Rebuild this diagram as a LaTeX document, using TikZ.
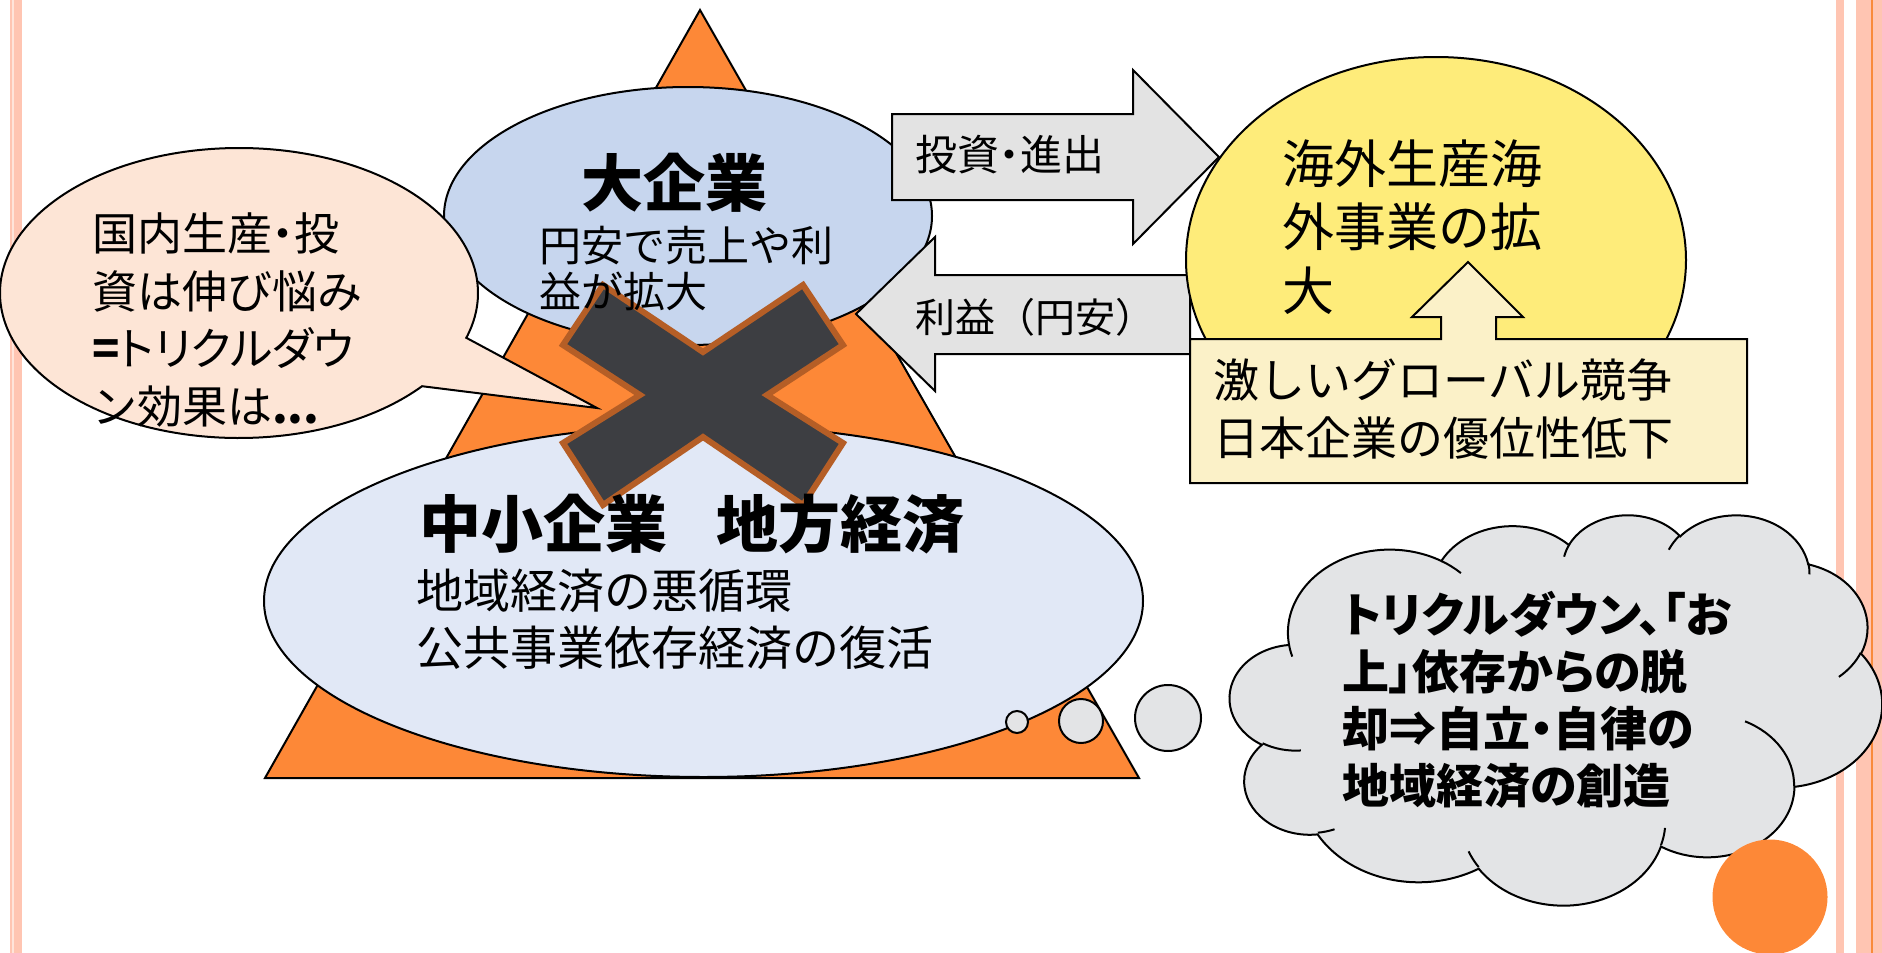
\documentclass[tikz,border=0pt]{standalone}
\usepackage{fontspec}
\newfontfamily\jp{Noto Sans CJK JP}
\newfontfamily\jpp[RawFeature=+palt]{Noto Sans CJK JP}
\definecolor{orangeT}{RGB}{253,136,55}
\definecolor{blueTop}{RGB}{199,214,238}
\definecolor{blueBot}{RGB}{225,232,246}
\definecolor{peach}{RGB}{253,229,214}
\definecolor{arrowgray}{RGB}{227,227,227}
\definecolor{sun}{RGB}{254,236,122}
\definecolor{boxyel}{RGB}{251,241,200}
\definecolor{xfill}{RGB}{61,62,66}
\definecolor{xedge}{RGB}{181,94,38}
\definecolor{cloudgray}{RGB}{227,228,230}
\definecolor{stripe}{RGB}{255,197,178}
\definecolor{stripepale}{RGB}{255,228,218}
\definecolor{stripeor}{RGB}{249,139,58}
% OOXML arcTo -> TikZ arc (visual angles converted to parametric)
\newcommand\ooprep[5]{%
  \pgfmathsetmacro\tmpS{atan2(#2*sin(#4),#3*cos(#4))}%
  \pgfmathsetmacro\tmpE{atan2(#2*sin(#4+#5),#3*cos(#4+#5))}%
  \pgfmathsetmacro\tmpD{mod(\tmpE-\tmpS+720,360)}%
  \expandafter\edef\csname oo#1\endcsname{arc[start angle=\tmpS, delta angle=\tmpD, x radius=#2, y radius=#3]}%
}
\ooprep{A}{6753}{9190}{-190.4875}{123.7805}
\ooprep{B}{5333}{7267}{-144.1024}{89.9452}
\ooprep{C}{4365}{5945}{-145.8079}{99.7230}
\ooprep{D}{4857}{6595}{-130.9861}{117.2417}
\ooprep{E}{5333}{7273}{-78.7089}{109.0269}
\ooprep{F}{6775}{9220}{-46.2673}{130.2690}
\ooprep{G}{5785}{7867}{0.6250}{114.0333}
\ooprep{H}{6752}{9215}{22.4516}{115.1726}
\ooprep{I}{7720}{10543}{66.2426}{75.7110}
\ooprep{J}{4360}{5918}{-274.9421}{146.7356}
\ooprep{K}{4345}{5945}{-246.8285}{152.5189}
\ooprep{a}{4345}{5945}{86.7420}{26.4295}
\ooprep{b}{4360}{5918}{73.6105}{11.4475}
\ooprep{c}{6752}{9215}{137.6242}{14.0811}
\ooprep{d}{6752}{9215}{6.4533}{15.9984}
\ooprep{e}{5785}{7867}{-70.2924}{70.9174}
\ooprep{f}{5333}{7273}{30.3180}{27.7515}
\ooprep{g}{4857}{6595}{-13.7443}{14.8589}
\ooprep{h}{4857}{6595}{-149.1815}{18.1954}
\ooprep{i}{4365}{5945}{-163.4943}{17.6864}
\ooprep{j}{6753}{9190}{-66.7070}{12.3194}
\ooprep{k}{6753}{9190}{157.6544}{11.8582}
\tikzset{
  ol/.style={draw=black, line width=2pt, line join=miter},
  txt/.style={inner sep=0pt, align=left, anchor=west, text=black},
}
\begin{document}
\begin{tikzpicture}[x=1pt,y=-1pt]
\useasboundingbox (0,0) rectangle (1882,953);
% side stripes
\fill[stripe] (10,0) rectangle (12,953);
\fill[stripepale] (12,0) rectangle (14,953);
\fill[stripe] (14,0) rectangle (22,953);
\fill[stripe] (1836,0) rectangle (1844,953);
\fill[stripe] (1856,0) rectangle (1882,953);
\fill[stripeor] (1871,0) rectangle (1873,953);
% pyramid
\draw[ol, fill=orangeT] (700,10) -- (1139,778) -- (265,778) -- cycle;
% large companies
\draw[ol, fill=blueTop] (688,216) ellipse[x radius=244, y radius=129];
% speech callout
\draw[ol, fill=peach] (239,293) ++(40:239 and 145)
  arc[start angle=40, end angle=378, x radius=239, y radius=145] -- (597,408) -- cycle;
% block arrows
\draw[ol, fill=arrowgray] (892,114) -- (1133,114) -- (1133,70) -- (1219,157)
  -- (1133,244) -- (1133,200) -- (892,200) -- cycle;
\draw[ol, fill=arrowgray] (1190,275) -- (935,275) -- (935,237) -- (856,314)
  -- (935,391) -- (935,354) -- (1190,354) -- cycle;
% overseas
\draw[ol, fill=sun] (1436,260) ellipse[x radius=250, y radius=203];
\draw[ol, fill=boxyel] (1190,339) -- (1441,339) -- (1441,317) -- (1412,317) -- (1468,262)
  -- (1523,317) -- (1496,317) -- (1496,339) -- (1747,339) -- (1747,483) -- (1190,483) -- cycle;
% SMEs
\draw[ol, fill=blueBot] (703.5,601) ellipse[x radius=439.5, y radius=176];
% big cross
\draw[draw=xedge, line width=6pt, fill=xfill, line join=miter]
  (603,285) -- (703,352) -- (803,285) -- (843,345) -- (767,395) -- (843,443)
  -- (803,505) -- (703,437) -- (603,505) -- (563,443) -- (640,395) -- (563,345) -- cycle;
% thought bubbles
\draw[ol, fill=cloudgray] (1017,722) circle[radius=11];
\draw[ol, fill=cloudgray] (1081,721) circle[radius=22];
\draw[ol, fill=cloudgray] (1168,718) circle[radius=33];
% cloud
\begin{scope}[shift={(1230,514)}, x=0.015093pt, y=-0.009028pt]
  \draw[ol, fill=cloudgray] (3900,14370) \ooA \ooB \ooC \ooD \ooE \ooF \ooG \ooH \ooI \ooJ \ooK -- cycle;
  \draw[ol, fill=none]
    (4693,26177) \ooa
    (6928,34899) \oob
    (16478,39090) \ooc
    (28827,34751) \ood
    (34129,22954) \ooe
    (41798,15354) \oof
    (38324,5426) \oog
    (29078,3952) \ooh
    (22141,4720) \ooi
    (14000,5192) \ooj
    (4127,15789) \ook;
\end{scope}
\fill[orangeT] (1770,897) circle[radius=57.5];
% texts
\node[txt, font={\jp\fontsize{45}{57.5}\selectfont}] (tCallout) at (92,320)
  {国内生産{\jpp ・}投\\資は伸び悩み\\{\jpp{\bfseries =}トリクルダウ}\\ン効果は{\bfseries ...}};
\node[txt, anchor=center, font={\jp\bfseries\fontsize{62}{70}\selectfont}] (tBig) at (674,183) {大企業};
\node[txt, font={\jp\fontsize{42}{46}\selectfont}] (tBigSub) at (539,269) {円安で売上や利\\益が拡大};
\node[txt, font={\jp\fontsize{42}{46}\selectfont}] (tInvest) at (915,155) {投資{\jpp ・}進出};
\node[txt, font={\jp\fontsize{40}{46}\selectfont}] (tProfit) at (915,317) {利益（円安）};
\node[txt, font={\jp\fontsize{52}{63.5}\selectfont}] (tOver) at (1282,227) {海外生産海\\外事業の拡\\大};
\node[txt, font={\jp\fontsize{46}{58}\selectfont}] (tBox) at (1213,409) {激しいグローバル競争\\日本企業の優位性低下};
\node[txt, font={\jp\bfseries\fontsize{62}{70}\selectfont}] (tSme) at (419,524) {中小企業\hspace{0.8em}地方経済};
\node[txt, font={\jp\fontsize{47}{57}\selectfont}] (tSmeSub) at (416,619.5) {地域経済の悪循環\\公共事業依存経済の復活};
\node[txt, font={\jpp\bfseries\fontsize{47}{57}\selectfont}] (tCloud) at (1342,700)
  {トリクルダウン、「お\\上」依存からの脱\\却⇒自立・自律の\\地域経済の創造};
\end{tikzpicture}
\end{document}
